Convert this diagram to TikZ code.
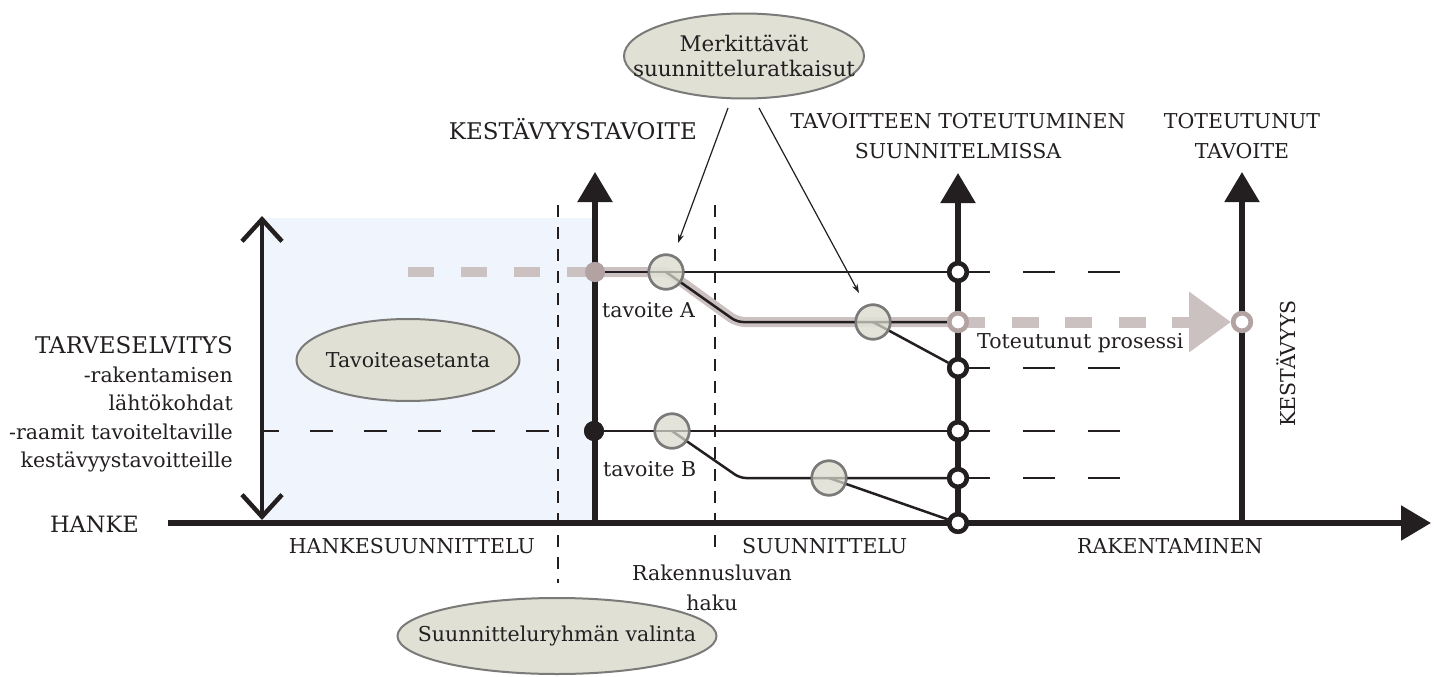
\documentclass[tikz,border=0pt]{standalone}
\usepackage{fontspec}
\setmainfont{DejaVu Serif}
\usetikzlibrary{arrows.meta,shapes.geometric}

\definecolor{ink}{RGB}{35,31,32}
\definecolor{zoneblue}{RGB}{240,244,252}
\definecolor{bubble}{RGB}{224,224,213}
\definecolor{bubbleedge}{RGB}{122,122,120}
\definecolor{rose}{RGB}{204,193,193}
\definecolor{rosedark}{RGB}{178,162,162}

\tikzset{
  lbl/.style={font=\fontsize{20.5}{28.5}\selectfont, text=ink, inner sep=0pt},
  biglbl/.style={lbl, font=\fontsize{23}{28.5}\selectfont},
  axis/.style={ink, line width=5.5pt, -{Triangle[length=30pt,width=34pt]}},
  phase/.style={ink, line width=2pt, dash pattern=on 12pt off 10pt},
  level/.style={ink, line width=2.5pt},
  outlook/.style={ink, line width=2.5pt, dash pattern=on 32pt off 33pt},
  topic/.style={ellipse, draw=bubbleedge, fill=bubble, line width=2pt, inner sep=0pt},
  choice/.style={circle, draw=bubbleedge, fill=bubble, fill opacity=0.7, line width=2.5pt, minimum size=34.5pt, inner sep=0pt},
  ring/.style={circle, draw=ink, fill=white, line width=4.5pt, minimum size=17.5pt, inner sep=0pt},
  rosering/.style={ring, draw=rosedark},
  dot/.style={circle, fill=ink, minimum size=20pt, inner sep=0pt},
  rosedot/.style={dot, fill=rosedark},
  pointer/.style={ink, line width=1.2pt, -{Stealth[length=9pt,width=6pt]}},
  trail/.style={rose, line width=10pt},
}

\begin{document}
\begin{tikzpicture}[x=1pt,y=-1pt]
\useasboundingbox (0,0) rectangle (1438,677);

% project-planning zone
\fill[zoneblue] (262,218) rectangle (595,523);

% key points
\coordinate (hstart) at (168,523);
\coordinate (hend)   at (1431,523);
\coordinate (g0) at (595,523);  \coordinate (gtop) at (595,172);
\coordinate (s0) at (958,523);  \coordinate (stop) at (958,173);
\coordinate (t0) at (1242,523); \coordinate (ttop) at (1242,172);
\coordinate (ph1a) at (558,205); \coordinate (ph1b) at (558,583);
\coordinate (ph2a) at (715,205); \coordinate (ph2b) at (715,555);
\coordinate (rangetop) at (262,216); \coordinate (rangebot) at (262,520);
\coordinate (bleft) at (262,431); \coordinate (bphase) at (556,431);
\coordinate (aleft) at (408,272);
\coordinate (abend1) at (668,272); \coordinate (abend2) at (737,322);
\coordinate (bbend) at (740,478);
\coordinate (outA) at (1120,272); \coordinate (outA2) at (1120,368);
\coordinate (outB) at (1120,431); \coordinate (outB2) at (1120,478);
\coordinate (ptr1s) at (728,108); \coordinate (ptr1e) at (678,243);
\coordinate (ptr2s) at (759,108); \coordinate (ptr2e) at (859,293);

% phase boundaries
\draw[phase] (ph1a) -- (ph1b);
\draw[phase] (ph2a) -- (ph2b);

% framework level of target B inside the project planning zone
\draw[ink, line width=2.5pt, dash pattern=on 23pt off 31pt, dash phase=6pt] (bleft) -- (bphase);

% main axes
\draw[axis] (hstart) -- (hend);
\draw[axis] (g0) -- (gtop);
\draw[axis] (s0) -- (stop);
\draw[axis] (t0) -- (ttop);

% range of the needs assessment
\draw[ink, line width=4.5pt, {Straight Barb[length=22pt,width=40pt]}-{Straight Barb[length=22pt,width=40pt]}] (rangetop) -- (rangebot);

% dots on the target axis
\node[rosedot] (dotA) at (595,272) {};
\node[dot] (dotB) at (594,431) {};

% rings on the design axis
\node[ring] (sA)  at (958,272) {};
\node[rosering] (sAp) at (958,322) {};
\node[ring] (sA2) at (958,368) {};
\node[ring] (sB)  at (958,431) {};
\node[ring] (sB2) at (958,478) {};
\node[ring] (sB3) at (958,523) {};
\node[rosering] (tA) at (1242,322) {};

% realised process (highlighted trail)
\draw[trail, dash pattern=on 26pt off 27pt] (aleft) -- (dotA.center);
\draw[trail, rounded corners=8pt] (dotA.center) -- (abend1) -- (abend2) -- (sAp.center);
\draw[rose, line width=11pt, dash pattern=on 27pt off 26.5pt, -{Triangle[length=42pt,width=58pt]}] (sAp.center) -- (tA);

% design choice nodes
\node[choice] (cA1) at (666,272) {};
\node[choice] (cA2) at (873,322) {};
\node[choice] (cB1) at (672,431) {};
\node[choice] (cB2) at (829,478) {};

% levels of target A
\draw[level] (dotA) -- (sA);
\draw[level, rounded corners=6pt] (cA1.center) -- (abend2) -- (sAp);
\draw[level] (cA2.center) -- (sA2);
% levels of target B
\draw[level] (dotB) -- (sB);
\draw[level, rounded corners=6pt] (cB1.center) -- (bbend) -- (sB2);
\draw[level] (cB2.center) -- (sB3);

% choice circles drawn again over the lines
\node[choice] at (cA1) {};
\node[choice] at (cA2) {};
\node[choice] at (cB1) {};
\node[choice] at (cB2) {};

% outlook beyond the design phase
\draw[outlook] (sA.center) -- (outA);
\draw[outlook] (sA2.center) -- (outA2);
\draw[outlook] (sB.center) -- (outB);
\draw[outlook] (sB2.center) -- (outB2);

% rings and dots drawn again over the lines
\node[ring] at (sA) {};
\node[ring] at (sA2) {};
\node[ring] at (sB) {};
\node[ring] at (sB2) {};
\node[ring] at (sB3) {};
\node[rosering] at (sAp) {};
\node[rosering] at (tA) {};
\node[rosedot] at (dotA) {};
\node[dot] at (dotB) {};

% bubbles
\node[topic, minimum width=240pt, minimum height=85pt] (merk) at (744,56) {};
\node[lbl, align=center, font=\fontsize{21.5}{25}\selectfont] (merktext) at (merk) {Merkittävät\\suunnitteluratkaisut};
\node[topic, minimum width=223pt, minimum height=82pt] (tavo) at (408,360) {};
\node[lbl] (tavotext) at (tavo) {Tavoiteasetanta};
\node[topic, minimum width=319pt, minimum height=76pt] (ryhma) at (557,636) {};
\node[lbl] (ryhmatext) at (ryhma) {Suunnitteluryhmän valinta};

% pointers from the design decisions
\draw[pointer] (ptr1s) -- (ptr1e);
\draw[pointer] (ptr2s) -- (ptr2e);

% labels
\node[biglbl, anchor=base east] (kt) at (697,139.5) {KESTÄVYYSTAVOITE};
\node[lbl, align=center, anchor=north, font=\fontsize{20.5}{30}\selectfont] (tts) at (958,112.6) {TAVOITTEEN TOTEUTUMINEN\\SUUNNITELMISSA};
\node[lbl, align=center, anchor=north, font=\fontsize{20.5}{30}\selectfont] (tt) at (1242,112.6) {TOTEUTUNUT\\TAVOITE};
\node[lbl, align=right, anchor=north east] (tarve) at (233,336.5) {{\fontsize{23}{28.5}\selectfont TARVESELVITYS}\\-rakentamisen\\lähtökohdat\\-raamit tavoiteltaville\\kestävyystavoitteille};
\node[lbl, anchor=base east, font=\fontsize{22.5}{28.5}\selectfont] (hanke) at (139,532.5) {HANKE};
\node[lbl, anchor=base east] (hs) at (535,553) {HANKESUUNNITTELU};
\node[lbl, anchor=base west] (su) at (742,553) {SUUNNITTELU};
\node[lbl, anchor=base east] (ra) at (1263,553) {RAKENTAMINEN};
\node[lbl, align=center, anchor=north, font=\fontsize{20.5}{30}\selectfont] (rl) at (712,564.4) {Rakennusluvan\\haku};
\node[lbl, anchor=base west] (tavA) at (602,317) {tavoite A};
\node[lbl, anchor=base west] (tavB) at (603,476) {tavoite B};
\node[lbl, anchor=base west] (tp) at (977,348) {Toteutunut prosessi};
\node[lbl, anchor=base west, rotate=90] (kest) at (1295,427) {KESTÄVYYS};
\end{tikzpicture}
\end{document}
